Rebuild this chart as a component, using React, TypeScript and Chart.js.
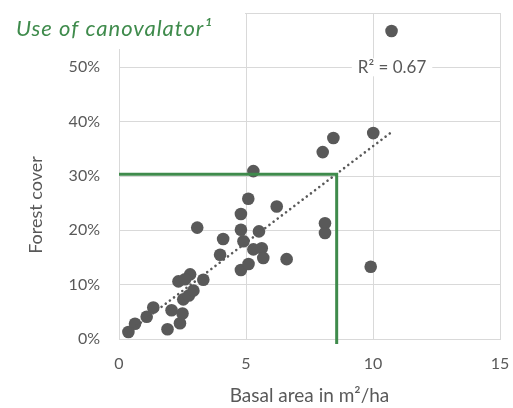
import { useEffect, useRef } from "react";
import { Chart, registerables } from "chart.js";

Chart.register(...registerables);

// ---- data ----
const basalArea = [
  0.37, 0.63, 1.09, 1.35, 1.91, 2.07, 2.4, 2.5, 2.53, 2.75, 2.93, 2.34, 2.8, 3.32,
  2.6, 3.08, 3.98, 4.1, 4.8, 5.1, 4.9, 4.8, 5.51, 4.8, 5.09, 5.29, 6.21, 5.29, 5.62,
  5.68, 6.6, 8.11, 8.11, 8.02, 8.44, 10.01, 9.91, 10.73,
];
const forestCover = [
  0.013, 0.028, 0.041, 0.058, 0.018, 0.053, 0.029, 0.047, 0.073, 0.08, 0.089, 0.106,
  0.119, 0.109, 0.11, 0.205, 0.155, 0.184, 0.127, 0.138, 0.18, 0.201, 0.198, 0.23, 0.258,
  0.309, 0.244, 0.165, 0.167, 0.149, 0.147, 0.213, 0.195, 0.344, 0.37, 0.379, 0.133,
  0.567,
];
const thresholdLineX = [0, 8.57, 8.57];
const thresholdLineY = [0.303, 0.303, -0.009];
const xTicks = [0, 5, 10, 15];
const yTicks = [0, 0.1, 0.2, 0.3, 0.4, 0.5, 0.6];
const chartTitle = "Use of canovalator¹";
const xTitle = "Basal area in m²/ha";
const yTitle = "Forest cover";
const r2Label = "R² = 0.67";
const r2Position = [10.75, 0.5];

// ---- styles ----
const GREEN = "#3f8b4c";
const TEXT = "#595959";
const GRID = "#d9d9d9";
const FONT = "Lato, 'Open Sans', sans-serif";

function linearFit(xs: number[], ys: number[]) {
  const n = xs.length;
  const mx = xs.reduce((a, b) => a + b, 0) / n;
  const my = ys.reduce((a, b) => a + b, 0) / n;
  let sxy = 0;
  let sxx = 0;
  for (let i = 0; i < n; i++) {
    sxy += (xs[i] - mx) * (ys[i] - my);
    sxx += (xs[i] - mx) * (xs[i] - mx);
  }
  const slope = sxy / sxx;
  return { slope, intercept: my - slope * mx };
}

function zeroPadding(s: any) {
  s.paddingLeft = 0;
  s.paddingRight = 0;
  s.paddingTop = 0;
  s.paddingBottom = 0;
}

const overlayPlugin = {
  id: "overlay",
  afterDraw(chart: any) {
    const ctx = chart.ctx as any;
    const xs = chart.scales.x;
    const ys = chart.scales.y;
    ctx.save();
    // title box
    ctx.fillStyle = "#ffffff";
    ctx.fillRect(0, 0, 245, 49);
    ctx.font = `italic 22px ${FONT}`;
    ctx.letterSpacing = "1px";
    ctx.fillStyle = GREEN;
    ctx.textAlign = "left";
    ctx.textBaseline = "alphabetic";
    ctx.fillText(chartTitle, 16, 36);
    ctx.letterSpacing = "0px";
    // R² label
    const px = xs.getPixelForValue(r2Position[0]);
    const py = ys.getPixelForValue(r2Position[1]);
    ctx.font = `17px ${FONT}`;
    const w = ctx.measureText(r2Label).width;
    ctx.fillStyle = "#ffffff";
    ctx.fillRect(px - w / 2 - 6, py - 9, w + 12, 18);
    ctx.fillStyle = TEXT;
    ctx.textAlign = "center";
    ctx.textBaseline = "middle";
    ctx.fillText(r2Label, px, py);
    // y axis title
    ctx.translate(36, 205);
    ctx.rotate(-Math.PI / 2);
    ctx.font = `18px ${FONT}`;
    ctx.fillText(yTitle, 0, 0);
    ctx.restore();
  },
};

export default function App() {
  const canvasRef = useRef<HTMLCanvasElement | null>(null);

  useEffect(() => {
    if (!canvasRef.current) return;
    const fit = linearFit(basalArea, forestCover);
    const minX = Math.min(...basalArea);
    const maxX = Math.max(...basalArea);
    const trend = [minX, maxX].map((x) => ({ x, y: fit.intercept + fit.slope * x }));
    const points = basalArea.map((x, i) => ({ x, y: forestCover[i] }));
    const threshold = thresholdLineX.map((x, i) => ({ x, y: thresholdLineY[i] }));

    const chart = new Chart(canvasRef.current, {
      type: "scatter",
      data: {
        datasets: [
          {
            data: threshold,
            showLine: true,
            borderColor: GREEN,
            borderWidth: 3,
            pointRadius: 0,
            clip: false,
          } as any,
          {
            data: trend,
            showLine: true,
            borderColor: TEXT,
            borderWidth: 2.6,
            borderDash: [0.01, 5.2],
            borderCapStyle: "round",
            pointRadius: 0,
          } as any,
          {
            data: points,
            backgroundColor: TEXT,
            borderWidth: 0,
            pointRadius: 6.3,
          },
        ],
      },
      options: {
        animation: false,
        responsive: true,
        maintainAspectRatio: false,
        layout: { padding: { top: 13, right: 13, left: 0, bottom: 0 } },
        plugins: {
          legend: { display: false },
          tooltip: { enabled: false },
        },
        scales: {
          x: {
            type: "linear",
            min: 0,
            max: 15,
            afterBuildTicks: (s: any) => {
              s.ticks = xTicks.map((v) => ({ value: v }));
            },
            afterFit: (s: any) => {
              s.height = 69;
              zeroPadding(s);
            },
            grid: { color: GRID, lineWidth: 1, drawTicks: false },
            border: { color: GRID, width: 1 },
            ticks: {
              color: TEXT,
              font: { family: FONT, size: 16 },
              padding: 15,
              maxRotation: 0,
            },
            title: {
              display: true,
              text: xTitle,
              color: TEXT,
              font: { family: FONT, size: 19 },
              padding: { top: 0, bottom: 1 },
            },
          },
          y: {
            type: "linear",
            min: 0,
            max: 0.6,
            afterBuildTicks: (s: any) => {
              s.ticks = yTicks.map((v) => ({ value: v }));
            },
            afterFit: (s: any) => {
              s.width = 119;
              zeroPadding(s);
            },
            grid: { color: GRID, lineWidth: 1, drawTicks: false },
            border: { color: GRID, width: 1 },
            ticks: {
              color: TEXT,
              font: { family: FONT, size: 16 },
              padding: 19,
              callback: (v: any) => `${Math.round(Number(v) * 100)}%`,
            },
          },
        },
      },
      plugins: [overlayPlugin],
    });
    return () => chart.destroy();
  }, []);

  return (
    <div style={{ position: "fixed", left: 0, top: 0, width: 513, height: 408, background: "#fff" }}>
      <canvas ref={canvasRef} />
    </div>
  );
}
